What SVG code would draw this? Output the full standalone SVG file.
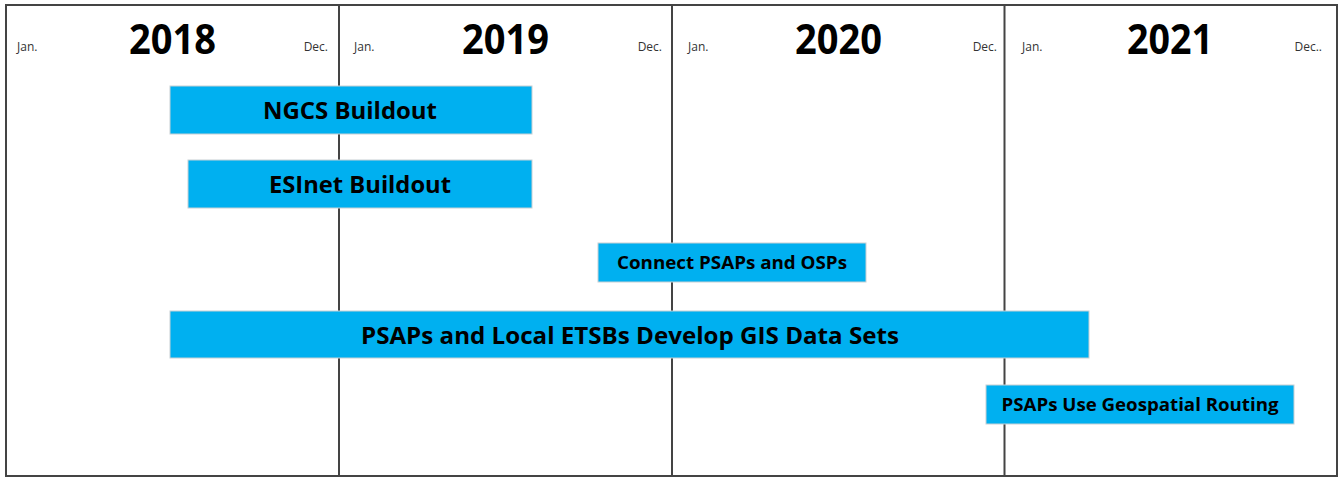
<svg xmlns="http://www.w3.org/2000/svg" width="1340" height="478" viewBox="0 0 1340 478">
<style>
.frame{fill:#fff;stroke:#444;stroke-width:2}
.div{stroke:#444;stroke-width:2}
.bar{fill:#00B0F0;stroke:#c8d0d4;stroke-width:1}
.yr{font-family:"Open Sans","Liberation Sans",sans-serif;font-weight:bold;font-size:41px;fill:#000;text-anchor:middle}
.mo{font-family:"Open Sans","Liberation Sans",sans-serif;font-size:12px;fill:#333}
.lb{font-family:"Open Sans","Liberation Sans",sans-serif;font-weight:bold;fill:#000;text-anchor:middle}
.big{font-size:24px}
.sm{font-size:17px}
</style>
<rect x="0" y="0" width="1340" height="478" fill="#fff"/>
<g id="grid">
<rect class="frame" x="6" y="5" width="1331" height="471"/>
<line class="div" x1="339" y1="5" x2="339" y2="476"/>
<line class="div" x1="672" y1="5" x2="672" y2="476"/>
<line class="div" x1="1004.5" y1="5" x2="1004.5" y2="476"/>
</g>
<g id="years">
<text class="yr" x="172.5" y="54" textLength="87" lengthAdjust="spacingAndGlyphs">2018</text>
<text class="yr" x="505.5" y="54" textLength="87" lengthAdjust="spacingAndGlyphs">2019</text>
<text class="yr" x="838.5" y="54" textLength="87" lengthAdjust="spacingAndGlyphs">2020</text>
<text class="yr" x="1170" y="54" textLength="86" lengthAdjust="spacingAndGlyphs">2021</text>
<text class="mo" x="17" y="51">Jan.</text>
<text class="mo" x="328" y="51" text-anchor="end">Dec.</text>
<text class="mo" x="354" y="51">Jan.</text>
<text class="mo" x="662" y="51" text-anchor="end">Dec.</text>
<text class="mo" x="688" y="51">Jan.</text>
<text class="mo" x="997" y="51" text-anchor="end">Dec.</text>
<text class="mo" x="1022" y="51">Jan.</text>
<text class="mo" x="1322" y="51" text-anchor="end">Dec..</text>
</g>
<g id="ngcs">
<rect class="bar" x="170" y="86" width="362" height="48"/>
<text class="lb big" x="350" y="119" textLength="174" lengthAdjust="spacingAndGlyphs">NGCS Buildout</text>
</g>
<g id="esinet">
<rect class="bar" x="188" y="160" width="344" height="48"/>
<text class="lb big" x="360" y="193" textLength="182" lengthAdjust="spacingAndGlyphs">ESInet Buildout</text>
</g>
<g id="connect">
<rect class="bar" x="598" y="243" width="268" height="39"/>
<text class="lb sm" x="732" y="269" textLength="230" lengthAdjust="spacingAndGlyphs">Connect PSAPs and OSPs</text>
</g>
<g id="gis">
<rect class="bar" x="170" y="311" width="919" height="47"/>
<text class="lb big" x="630" y="344" textLength="538" lengthAdjust="spacingAndGlyphs">PSAPs and Local ETSBs Develop GIS Data Sets</text>
</g>
<g id="geo">
<rect class="bar" x="986" y="385" width="308" height="39"/>
<text class="lb sm" x="1140" y="411" textLength="277" lengthAdjust="spacingAndGlyphs">PSAPs Use Geospatial Routing</text>
</g>
<g id="connectors"></g>
</svg>
